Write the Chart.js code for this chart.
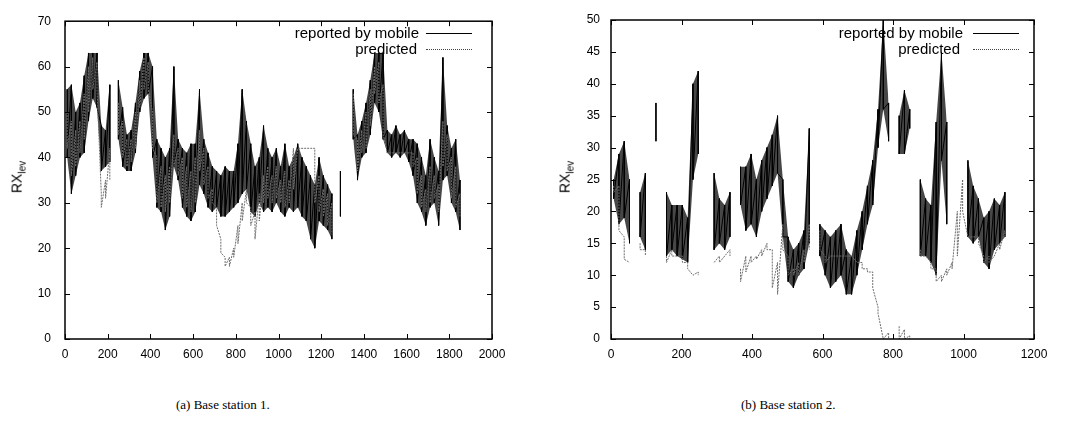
<!DOCTYPE html>
<html>
<head>
<meta charset="utf-8">
<script src="https://cdn.jsdelivr.net/npm/chart.js@4.4.0/dist/chart.umd.min.js"></script>
<style>
    body { margin: 0; background: #fff; width: 1070px; height: 424px; position: relative; overflow: hidden;
           font-family: "Liberation Sans", Arial, sans-serif; color: #000; }
    .panel { position: absolute; top: 0; width: 535px; height: 370px; }
    .ytitle { position: absolute; font-size: 14px; transform: translate(-50%, -50%) rotate(-90deg); white-space: nowrap; }
    .ytitle sub { font-size: 10px; }
    .legtext { position: absolute; font-size: 15px; line-height: 16px; white-space: nowrap; text-align: right; }
    .legline { position: absolute; width: 46px; height: 0; }
    .caption { position: absolute; top: 397px; font-family: "Liberation Serif", "Times New Roman", serif; font-size: 13px; }
</style>
</head>
<body>
<div class="panel" style="left:0"><canvas id="chartA" width="535" height="370"></canvas></div>
<div class="panel" style="left:535px"><canvas id="chartB" width="535" height="370"></canvas></div>

<div class="ytitle" style="left:18px; top:177px">RX<sub>lev</sub></div>
<div class="ytitle" style="left:566px; top:177px">RX<sub>lev</sub></div>

<div class="legtext" style="right:651px; top:25px">reported by mobile</div>
<div class="legline" style="left:426px; top:33px; border-top:1px solid #000"></div>
<div class="legtext" style="right:653px; top:41px">predicted</div>
<div class="legline" style="left:426px; top:49px; border-top:1px dotted #444"></div>

<div class="legtext" style="right:107px; top:25px">reported by mobile</div>
<div class="legline" style="left:973px; top:33px; border-top:1px solid #000"></div>
<div class="legtext" style="right:110px; top:41px">predicted</div>
<div class="legline" style="left:973px; top:49px; border-top:1px dotted #444"></div>

<div class="caption" style="left:176px">(a) Base station 1.</div>
<div class="caption" style="left:741px">(b) Base station 2.</div>

<script>
// Base station 1: envelope (high / low) of each 20-sample bin, x from 0 to 1860
const binA = 20;
const mobileHiA = [55, 56, 50, 52, 58, 63, 63, 63, 47, 46, 56, null, 57, 51, 45, 46, 52, 59, 63, 63,
    60, 44, 42, 40, 42, 60, 44, 42, 41, 43, 43, 55, 44, 41, 38, 37, 36, 38, 37, 37,
    43, 55, 48, 43, 38, 40, 47, 42, 40, 42, 38, 43, 38, 40, 43, 40, 38, 36, 34, 40,
    36, 34, 32, null, 37, null, null, 55, 45, 48, 52, 57, 63, 63, 63, 46, 45, 47, 45, 46,
    44, 44, 43, 40, 36, 44, 40, 37, 62, 47, 42, 44, 35];
const mobileLoA = [40, 32, 36, 40, 41, 48, 53, 51, 37, 38, 39, null, 44, 38, 37, 37, 41, 50, 53, 54,
    40, 29, 28, 24, 27, 38, 35, 29, 27, 26, 28, 34, 32, 29, 28, 29, 27, 27, 28, 29,
    30, 32, 33, 28, 27, 30, 28, 29, 28, 30, 28, 27, 29, 28, 29, 27, 26, 22, 20, 26,
    25, 24, 22, null, 27, null, null, 44, 35, 40, 41, 45, 52, 50, 44, 41, 40, 41, 40, 41,
    39, 36, 30, 28, 25, 29, 30, 25, 35, 36, 30, 28, 24];
const predHiA = [50, 48, 46, 48, 54, 60, 62, 61, 32, 35, 42, null, 52, 48, 44, 44, 50, 57, 62, 61,
    50, 40, 38, 36, 38, 45, 42, 40, 38, 37, 40, 46, 42, 38, 33, 29, 22, 18, 18, 20,
    25, 30, 33, 29, 28, 32, 36, 38, 36, 38, 35, 37, 35, 42, 42, 42, 42, 42, 42, 36,
    33, 32, 30, null, null, null, null, 54, 44, 46, 50, 55, 60, 61, 56, 41, 41, 41, 41, 41,
    41, 41, 40, 36, 33, 38, 36, 34, 48, 45, 40, 38, 32];
const predLoA = [42, 36, 38, 41, 44, 50, 55, 55, 29, 31, 35, null, 45, 40, 38, 39, 42, 51, 55, 55,
    42, 30, 29, 28, 30, 38, 36, 31, 29, 28, 30, 37, 34, 31, 30, 25, 19, 16, 16, 18,
    21, 26, 30, 25, 22, 26, 30, 31, 30, 31, 30, 29, 30, 33, 42, 42, 42, 42, 30, 28,
    27, 25, 23, null, null, null, null, 45, 37, 41, 42, 47, 54, 52, 45, 41, 41, 41, 41, 41,
    41, 38, 32, 29, 28, 30, 31, 28, 38, 37, 31, 29, 27];
const xTicksA = { min: 0, max: 2000, step: 200 };
const yTicksA = { min: 0, max: 70, step: 10 };

// Base station 2: envelope of each 15-sample bin, x from 0 to 1125
const binB = 15;
const mobileHiB = [25, 29, 31, 25, null, 23, 26, null, 37, null, 23, 21, 21, 21, 19, 40, 42, null, null, 26,
    22, 21, 23, null, 27, 27, 29, 25, 28, 30, 32, 35, 25, 16, 14, 15, 17, 33, null, 18,
    17, 16, 17, 18, 14, 13, 17, 20, 24, 28, 36, 50, 37, null, 35, 39, 36, null, 25, 22,
    21, 34, 45, 34, null, null, null, 28, 24, 22, 19, 20, 22, 21, 23];
const mobileLoB = [22, 18, 19, 15, null, 16, 14, null, 31, null, 13, 14, 13, 12.5, 12, 25, 29, null, null, 14,
    15, 14, 16, null, 21, 17, 18, 16, 20, 22, 24, 26, 16, 9, 8, 10, 11, 15, null, 13,
    10, 8, 9, 10, 7, 7, 10, 14, 18, 21, 30, 36, 31, null, 29, 29, 33, null, 13, 13,
    12, 10, 28, 18, null, null, null, 16, 15, 16, 12, 11, 14, 15, 16];
const predHiB = [24, 24, 16, 12, null, 15, 14, null, null, null, 13, 14, 13, 13, 12, 10, 10.5, null, null, 12,
    13, 13, 14, null, 11, 13, 13, 13, 14, 15, 14, 12, 18, 13, 11, 12, 14, 18, null, 17,
    13, 13, 13, 13, 13, 13, 12, 12, 11, 10.5, 5, 0, 1, null, 2, 1.5, 0.5, null, 14, 13,
    12, 11, 10, 11, 12, 20, 25, 16, 16, 16, 13, 13, 13, 15, 17];
const predLoB = [23, 17, 12.5, 12, null, 14, 13, null, null, null, 12, 13, 13, 12, 11, 10, 10, null, null, 12,
    12, 13, 13, null, 9, 10.5, 12, 12.5, 13, 14, 8, 7, 14, 10, 10, 10, 12, 14, null, 14,
    12, 13, 13, 13, 13, 13, 12, 11, 10.5, 8, 4, 0, 0, null, 0, 0, 0, null, 13, 13,
    11, 9, 9, 10, 11, 13, 20, 16, 16, 15, 12, 12, 13, 14, 16];
const xTicksB = { min: 0, max: 1200, step: 200 };
const yTicksB = { min: 0, max: 50, step: 5 };

// each bin becomes a vertical stroke from its high value to its low value
function strokes(hi, lo, bin) {
    const pts = [];
    hi.forEach((h, i) => {
        const x = i * bin + bin / 2;
        if (h === null) {
            pts.push({ x, y: null });
            return;
        }
        pts.push({ x, y: h });
        pts.push({ x, y: lo[i] });
    });
    return pts;
}

// one edge of the envelope, at the bin centres
function edge(vals, bin) {
    return vals.map((v, i) => ({ x: i * bin + bin / 2, y: v }));
}

// box around the plot with inward ticks on all four sides (gnuplot style)
const frame = {
    id: 'frame',
    afterDatasetsDraw(chart) {
        const { ctx, chartArea: a, scales: { x, y } } = chart;
        const len = 5;
        ctx.save();
        ctx.strokeStyle = '#000';
        ctx.lineWidth = 1;
        ctx.beginPath();
        x.ticks.forEach(t => {
            const px = Math.round(x.getPixelForValue(t.value)) + 0.5;
            ctx.moveTo(px, a.bottom); ctx.lineTo(px, a.bottom - len);
            ctx.moveTo(px, a.top); ctx.lineTo(px, a.top + len);
        });
        y.ticks.forEach(t => {
            const py = Math.round(y.getPixelForValue(t.value)) + 0.5;
            ctx.moveTo(a.left, py); ctx.lineTo(a.left + len, py);
            ctx.moveTo(a.right, py); ctx.lineTo(a.right - len, py);
        });
        ctx.stroke();
        ctx.lineWidth = 1.5;
        ctx.strokeRect(a.left, a.top, a.right - a.left, a.bottom - a.top);
        ctx.restore();
    }
};

function makeChart(id, cfg) {
    const tickFont = { family: '"Liberation Sans", Arial, sans-serif', size: 12 };
    return new Chart(document.getElementById(id).getContext('2d'), {
        type: 'line',
        data: {
            datasets: [{
                label: 'predicted',
                data: strokes(cfg.predHi, cfg.predLo, cfg.bin),
                borderColor: '#6e6e6e',
                borderWidth: 1,
                borderDash: [2, 1],
                pointRadius: 0,
                spanGaps: false,
                order: 0
            }, {
                label: 'reported by mobile',
                data: strokes(cfg.mobileHi, cfg.mobileLo, cfg.bin),
                borderColor: '#000',
                borderWidth: 1,
                pointRadius: 0,
                spanGaps: false,
                order: 1
            }, {
                label: 'mobile band top',
                data: edge(cfg.mobileHi, cfg.bin),
                borderWidth: 0,
                pointRadius: 0,
                spanGaps: false,
                fill: '+1',
                backgroundColor: 'rgba(0,0,0,0.72)',
                order: 2
            }, {
                label: 'mobile band bottom',
                data: edge(cfg.mobileLo, cfg.bin),
                borderWidth: 0,
                pointRadius: 0,
                spanGaps: false,
                fill: false,
                order: 3
            }]
        },
        options: {
            responsive: false,
            animation: false,
            layout: { padding: cfg.padding },
            plugins: { legend: { display: false }, tooltip: { enabled: false } },
            scales: {
                x: {
                    type: 'linear',
                    min: cfg.xTicks.min, max: cfg.xTicks.max,
                    grid: { display: false, drawTicks: false },
                    border: { display: false },
                    ticks: { stepSize: cfg.xTicks.step, color: '#000', font: tickFont, padding: 8, maxRotation: 0,
                             callback: v => String(v) },
                    afterFit(scale) { scale.height = 20; }
                },
                y: {
                    min: cfg.yTicks.min, max: cfg.yTicks.max,
                    grid: { display: false, drawTicks: false },
                    border: { display: false },
                    ticks: { stepSize: cfg.yTicks.step, color: '#000', font: tickFont, padding: cfg.yPad,
                             callback: v => String(v) },
                    afterFit(scale) { scale.width = cfg.yWidth; }
                }
            }
        },
        plugins: [frame]
    });
}

makeChart('chartA', {
    mobileHi: mobileHiA, mobileLo: mobileLoA, predHi: predHiA, predLo: predLoA, bin: binA,
    xTicks: xTicksA, yTicks: yTicksA,
    padding: { left: 0, top: 21, right: 43, bottom: 11 }, yWidth: 65, yPad: 14
});
makeChart('chartB', {
    mobileHi: mobileHiB, mobileLo: mobileLoB, predHi: predHiB, predLo: predLoB, bin: binB,
    xTicks: xTicksB, yTicks: yTicksB,
    padding: { left: 0, top: 20, right: 36, bottom: 11 }, yWidth: 76, yPad: 11
});
</script>
</body>
</html>
